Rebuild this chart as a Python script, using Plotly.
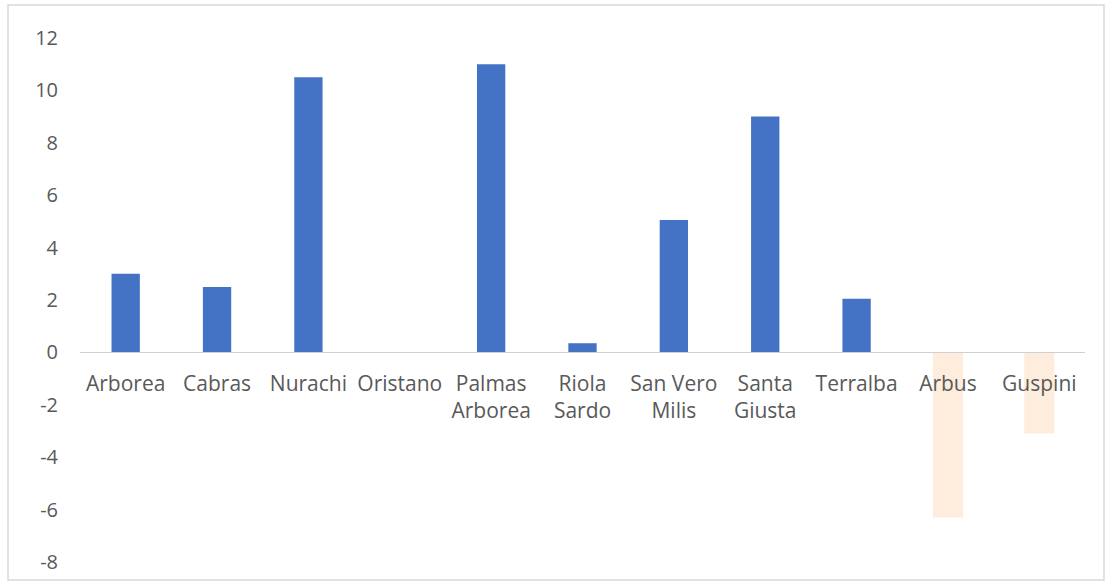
import plotly.graph_objects as go

# Municipalities and their values
comuni = ["Arborea", "Cabras", "Nurachi", "Oristano", "Palmas<br>Arborea",
          "Riola<br>Sardo", "San Vero<br>Milis", "Santa<br>Giusta", "Terralba",
          "Arbus", "Guspini"]
positivi = [3.0, 2.5, 10.5, 0.0, 11.0, 0.35, 5.05, 9.0, 2.05, None, None]
negativi = [None, None, None, None, None, None, None, None, None, -6.3, -3.1]
y_ticks = [12, 10, 8, 6, 4, 2, 0, -2, -4, -6, -8]
y_labels = ["12", "10", "8", "6", "4", "2", "0", "-2", "-4", "-6", "-8"]

W, H = 1109, 586
L, R, T, B = 80, 24, 38, 24

fig = go.Figure()
fig.add_trace(go.Bar(x=comuni, y=positivi, marker=dict(color="#4472C4", line=dict(width=0)),
                     width=0.31))
fig.add_trace(go.Bar(x=comuni, y=negativi, marker=dict(color="#FEEDDC", line=dict(width=0)),
                     width=0.33))

font = dict(family="Open Sans, Lato, sans-serif", size=21, color="#595959")
yfont = dict(family="Open Sans, Lato, sans-serif", size=20, color="#595959")

pw = W - L - R
ph = H - T - B


def px_x(p):
    return (p - L) / pw


def px_y(p):
    return (H - B - p) / ph


fig.update_layout(
    width=W, height=H,
    margin=dict(l=L, r=R, t=T, b=B),
    paper_bgcolor="white", plot_bgcolor="white",
    barmode="relative",
    showlegend=False,
    font=font,
    xaxis=dict(anchor="free", position=0.4, showline=True, linecolor="#D0D0D0",
               linewidth=1.2, showgrid=False, ticks="", tickfont=font,
               ticklabelstandoff=12, tickangle=0),
    yaxis=dict(range=[-8, 12], tickvals=y_ticks, ticktext=y_labels, showgrid=False,
               zeroline=False, showline=False, ticks="", tickfont=yfont,
               ticklabelstandoff=21),
    shapes=[dict(type="rect", xref="paper", yref="paper",
                 x0=px_x(8), x1=px_x(1104), y0=px_y(580), y1=px_y(5),
                 line=dict(color="#D9D9D9", width=1.5), fillcolor="rgba(0,0,0,0)",
                 layer="below")],
)

fig.write_html("out.html")
